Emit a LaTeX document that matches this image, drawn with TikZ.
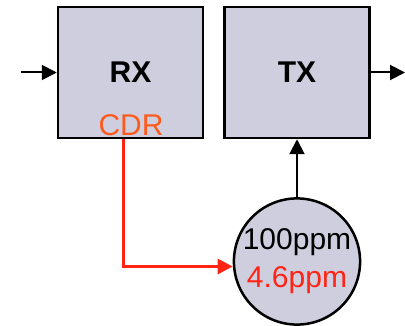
\documentclass[tikz,border=0pt]{standalone}
\usepackage{fontspec}
\setmainfont{Liberation Sans}
\usetikzlibrary{arrows.meta}
\usetikzlibrary{positioning}
\definecolor{blockfill}{HTML}{CECEDE}
\definecolor{cdrorange}{HTML}{FF5A1E}
\definecolor{clkred}{HTML}{FF2414}
\tikzset{block/.style={draw,line width=2.5pt,fill=blockfill,minimum width=145pt,minimum height=131pt,font=\fontsize{30}{36}\selectfont\bfseries}}
\tikzset{clock/.style={draw,circle,line width=2.5pt,fill=blockfill,minimum size=126pt,inner sep=0pt,align=center,font=\fontsize{30}{38}\selectfont}}
\tikzset{sig/.style={line width=2pt,-{Triangle[length=15pt,width=15pt]}}}
\tikzset{tap/.style={line width=3pt,color=clkred,-{Triangle[length=15pt,width=15pt]}}}

\begin{document}
\begin{tikzpicture}[x=1pt,y=-1pt]
    \useasboundingbox (0,0) rectangle (405,326);
    \node[block] (rx) at (130.5,72.5) {RX};
    \node[block] (tx) at (297,72.5) {TX};
    \node[anchor=base,text=cdrorange,font=\fontsize{30}{36}\selectfont,inner sep=0pt] (cdr) at (131,136) {CDR};
    \node[clock] (clk) at (297,261.5) {100ppm\\\textcolor{clkred}{4.6ppm}};
    \coordinate (in) at (21,72.5);
    \coordinate (out) at (405,72.5);
    \draw[sig] (in) -- (rx.west);
    \draw[sig] (tx.east) -- (out);
    \draw[sig] (clk.north) -- (tx.south);
    \draw[tap] ([xshift=-7pt]rx.south) |- ([yshift=-5pt]clk.west);
\end{tikzpicture}
\end{document}
